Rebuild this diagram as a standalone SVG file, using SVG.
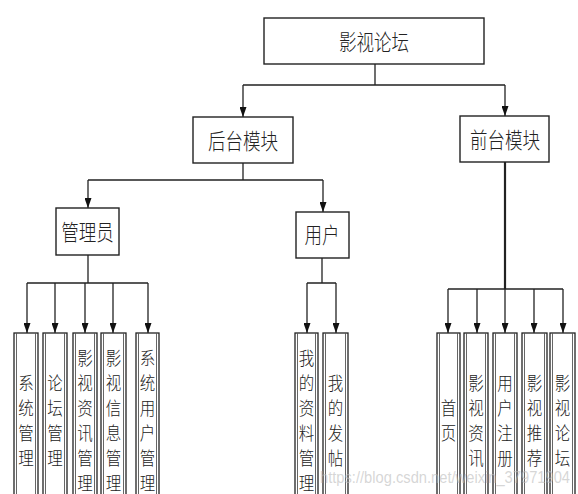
<svg xmlns="http://www.w3.org/2000/svg" width="578" height="494" viewBox="0 0 578 494">
<defs>
<style>
.box{fill:#fff;stroke:#222;stroke-width:1.4}
.leaf{fill:#fff;stroke:#222;stroke-width:1.3}
.inner{stroke:#555;stroke-width:0.9}
.lbl{font-family:"Noto Sans CJK SC","Noto Sans",sans-serif;font-size:17.5px;font-weight:300;fill:#222;text-anchor:middle;dominant-baseline:central}
.vl{font-family:"Noto Sans CJK SC","Noto Sans",sans-serif;font-size:15.5px;font-weight:300;fill:#222;text-anchor:middle;dominant-baseline:central}
.conn{fill:none;stroke:#222;stroke-width:1.3}
.thick{stroke-width:2.2}
.wm{font-family:"Liberation Sans",Arial,sans-serif;font-size:16px;fill:#bbb;fill-opacity:0.6}
</style>
<marker id="ah" viewBox="0 0 10 7" refX="10" refY="3.5" markerWidth="10" markerHeight="7" markerUnits="userSpaceOnUse" orient="auto">
<path d="M0,0 L10,3.5 L0,7 z" fill="#111"/>
</marker>
</defs>
<rect width="578" height="494" fill="#fff"/>

<g id="connectors">
<path class="conn" d="M375 64 V85 M243 85 H505"/>
<path class="conn" d="M243 85 V117" marker-end="url(#ah)"/>
<path class="conn" d="M505 85 V116" marker-end="url(#ah)"/>
<path class="conn" d="M243 163 V180 M88 180 H323"/>
<path class="conn" d="M88 180 V208" marker-end="url(#ah)"/>
<path class="conn" d="M323 180 V212" marker-end="url(#ah)"/>
<path class="conn thick" d="M505 162 V289"/>
<path class="conn" d="M448 289 H563"/>
<path class="conn" d="M448 289 V333" marker-end="url(#ah)"/>
<path class="conn" d="M477 289 V333" marker-end="url(#ah)"/>
<path class="conn" d="M505 289 V333" marker-end="url(#ah)"/>
<path class="conn" d="M534 289 V333" marker-end="url(#ah)"/>
<path class="conn" d="M563 289 V333" marker-end="url(#ah)"/>
<path class="conn" d="M88 255 V283 M27 283 H148"/>
<path class="conn" d="M27 283 V333" marker-end="url(#ah)"/>
<path class="conn" d="M55 283 V333" marker-end="url(#ah)"/>
<path class="conn" d="M85 283 V333" marker-end="url(#ah)"/>
<path class="conn" d="M113 283 V333" marker-end="url(#ah)"/>
<path class="conn" d="M148 283 V333" marker-end="url(#ah)"/>
<path class="conn" d="M322 258 V283 M307 283 H336"/>
<path class="conn" d="M307 283 V333" marker-end="url(#ah)"/>
<path class="conn" d="M336 283 V333" marker-end="url(#ah)"/>
</g>

<g id="n-root">
<rect class="box" x="264" y="18" width="220" height="46"/>
<text class="lbl" transform="translate(374,41) scale(1,1.25)" x="0" y="0">影视论坛</text>
</g>
<g id="n-backend">
<rect class="box" x="193" y="117" width="100" height="46"/>
<text class="lbl" transform="translate(243,140) scale(1,1.25)" x="0" y="0">后台模块</text>
</g>
<g id="n-frontend">
<rect class="box" x="460" y="116" width="89" height="46"/>
<text class="lbl" transform="translate(505,139) scale(1,1.25)" x="0" y="0">前台模块</text>
</g>
<g id="n-admin">
<rect class="box" x="56" y="208" width="63" height="47"/>
<text class="lbl" transform="translate(87.5,231) scale(1,1.25)" x="0" y="0">管理员</text>
</g>
<g id="n-user">
<rect class="box" x="296" y="212" width="53" height="46"/>
<text class="lbl" transform="translate(322,234) scale(1,1.25)" x="0" y="0">用户</text>
</g>

<g id="n-sysmgmt">
<rect class="leaf" x="14" y="333" width="24" height="200"/>
<path class="inner" d="M16.5 333 V533 M35.5 333 V533"/>
<text class="vl" transform="translate(26,420) scale(1,1.15)"><tspan x="0" y="-32.6">系</tspan><tspan x="0" y="-10.9">统</tspan><tspan x="0" y="10.9">管</tspan><tspan x="0" y="32.6">理</tspan></text>
</g>
<g id="n-forummgmt">
<rect class="leaf" x="43" y="333" width="24" height="200"/>
<path class="inner" d="M45.5 333 V533 M64.5 333 V533"/>
<text class="vl" transform="translate(55,420) scale(1,1.15)"><tspan x="0" y="-32.6">论</tspan><tspan x="0" y="-10.9">坛</tspan><tspan x="0" y="10.9">管</tspan><tspan x="0" y="32.6">理</tspan></text>
</g>
<g id="n-newsmgmt">
<rect class="leaf" x="73" y="333" width="24" height="200"/>
<path class="inner" d="M75.5 333 V533 M94.5 333 V533"/>
<text class="vl" transform="translate(85,420) scale(1,1.15)"><tspan x="0" y="-54.3">影</tspan><tspan x="0" y="-32.6">视</tspan><tspan x="0" y="-10.9">资</tspan><tspan x="0" y="10.9">讯</tspan><tspan x="0" y="32.6">管</tspan><tspan x="0" y="54.3">理</tspan></text>
</g>
<g id="n-infomgmt">
<rect class="leaf" x="101" y="333" width="25" height="200"/>
<path class="inner" d="M103.5 333 V533 M123.5 333 V533"/>
<text class="vl" transform="translate(113.5,420) scale(1,1.15)"><tspan x="0" y="-54.3">影</tspan><tspan x="0" y="-32.6">视</tspan><tspan x="0" y="-10.9">信</tspan><tspan x="0" y="10.9">息</tspan><tspan x="0" y="32.6">管</tspan><tspan x="0" y="54.3">理</tspan></text>
</g>
<g id="n-usermgmt">
<rect class="leaf" x="136" y="333" width="23" height="200"/>
<path class="inner" d="M138.5 333 V533 M156.5 333 V533"/>
<text class="vl" transform="translate(147.5,420) scale(1,1.15)"><tspan x="0" y="-54.3">系</tspan><tspan x="0" y="-32.6">统</tspan><tspan x="0" y="-10.9">用</tspan><tspan x="0" y="10.9">户</tspan><tspan x="0" y="32.6">管</tspan><tspan x="0" y="54.3">理</tspan></text>
</g>

<g id="n-profile">
<rect class="leaf" x="295" y="333" width="23" height="200"/>
<path class="inner" d="M297.5 333 V533 M315.5 333 V533"/>
<text class="vl" transform="translate(306.5,420) scale(1,1.15)"><tspan x="0" y="-54.3">我</tspan><tspan x="0" y="-32.6">的</tspan><tspan x="0" y="-10.9">资</tspan><tspan x="0" y="10.9">料</tspan><tspan x="0" y="32.6">管</tspan><tspan x="0" y="54.3">理</tspan></text>
</g>
<g id="n-posts">
<rect class="leaf" x="323" y="333" width="25" height="200"/>
<path class="inner" d="M325.5 333 V533 M345.5 333 V533"/>
<text class="vl" transform="translate(335.5,420) scale(1,1.15)"><tspan x="0" y="-32.6">我</tspan><tspan x="0" y="-10.9">的</tspan><tspan x="0" y="10.9">发</tspan><tspan x="0" y="32.6">帖</tspan></text>
</g>

<g id="n-home">
<rect class="leaf" x="437" y="333" width="23" height="200"/>
<path class="inner" d="M439.5 333 V533 M457.5 333 V533"/>
<text class="vl" transform="translate(448.5,420) scale(1,1.15)"><tspan x="0" y="-10.9">首</tspan><tspan x="0" y="10.9">页</tspan></text>
</g>
<g id="n-news">
<rect class="leaf" x="464" y="333" width="24" height="200"/>
<path class="inner" d="M466.5 333 V533 M485.5 333 V533"/>
<text class="vl" transform="translate(476,420) scale(1,1.15)"><tspan x="0" y="-32.6">影</tspan><tspan x="0" y="-10.9">视</tspan><tspan x="0" y="10.9">资</tspan><tspan x="0" y="32.6">讯</tspan></text>
</g>
<g id="n-register">
<rect class="leaf" x="493" y="333" width="24" height="200"/>
<path class="inner" d="M495.5 333 V533 M514.5 333 V533"/>
<text class="vl" transform="translate(505,420) scale(1,1.15)"><tspan x="0" y="-32.6">用</tspan><tspan x="0" y="-10.9">户</tspan><tspan x="0" y="10.9">注</tspan><tspan x="0" y="32.6">册</tspan></text>
</g>
<g id="n-recommend">
<rect class="leaf" x="522" y="333" width="25" height="200"/>
<path class="inner" d="M524.5 333 V533 M544.5 333 V533"/>
<text class="vl" transform="translate(534.5,420) scale(1,1.15)"><tspan x="0" y="-32.6">影</tspan><tspan x="0" y="-10.9">视</tspan><tspan x="0" y="10.9">推</tspan><tspan x="0" y="32.6">荐</tspan></text>
</g>
<g id="n-forum">
<rect class="leaf" x="550" y="333" width="25" height="200"/>
<path class="inner" d="M552.5 333 V533 M572.5 333 V533"/>
<text class="vl" transform="translate(562.5,420) scale(1,1.15)"><tspan x="0" y="-32.6">影</tspan><tspan x="0" y="-10.9">视</tspan><tspan x="0" y="10.9">论</tspan><tspan x="0" y="32.6">坛</tspan></text>
</g>

<text class="wm" x="320" y="483" textLength="250" lengthAdjust="spacingAndGlyphs">https://blog.csdn.net/weixin_37971904</text>
</svg>
